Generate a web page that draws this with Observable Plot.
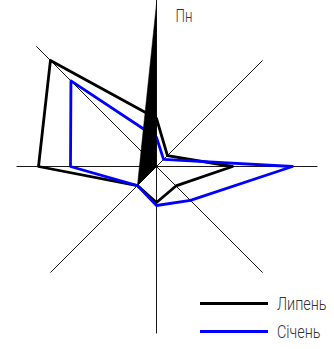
<!DOCTYPE html>
<html>
<head>
<meta charset="utf-8">
<script src="https://cdn.jsdelivr.net/npm/d3@7"></script>
<script src="https://cdn.jsdelivr.net/npm/@observablehq/plot@0.6"></script>
<style>
  html, body { margin: 0; padding: 0; background: #fff; }
  #wrap { position: relative; width: 334px; height: 349px; }
  .lg { position: absolute; left: 200px; display: flex; align-items: center; white-space: nowrap; }
  .lg span.sw { display: inline-block; width: 68px; height: 3px; margin-right: 9px; }
  .lg span.tx { display: inline-block; font-family: Roboto, sans-serif; font-weight: 300; font-size: 18px; color: #333; transform: scaleX(0.8); transform-origin: left center; }
</style>
</head>
<body>
<div id="wrap"></div>
<script>
// Directions (clockwise from north)
const directions = ["Пн", "ПнСх", "Сх", "ПдСх", "Пд", "ПдЗх", "Зх", "ПнЗх"];
// Series values
const lypen = [48, 15.5, 76, 27.5, 36, 27, 118, 150];   // Липень (July)
const sichen = [29, 10, 136, 48, 39, 27, 86, 121];      // Січень (January)
// Length of each axis ray
const axisReach = [167, 150, 161, 150, 167, 150, 140, 170];
// Filled spike (direction index, value)
const spike = [[0, 163], [5, 27], [0, 0]];
const seriesNames = ["Липень", "Січень"];
const seriesColors = ["#000000", "#0000ff"];

const polar = (i, r) => {
  const a = i * Math.PI / 4;
  return {x: r * Math.sin(a), y: r * Math.cos(a)};
};

const axes = directions.map((d, i) => ({...polar(i, axisReach[i]), d}));
const ring = (vals, name) => {
  const pts = vals.map((v, i) => ({...polar(i, v), name}));
  pts.push(pts[0]);
  return pts;
};
const black = ring(lypen, seriesNames[0]);
const blue = ring(sichen, seriesNames[1]);
const spikePts = spike.map(([i, v]) => polar(i, v));

const chart = Plot.plot({
  width: 334,
  height: 349,
  margin: 0,
  x: {domain: [-156, 178], axis: null},
  y: {domain: [-183, 166], axis: null},
  marks: [
    Plot.link(axes, {x1: 0, y1: 0, x2: "x", y2: "y", stroke: "#000", strokeWidth: 0.9}),
    Plot.line(black, {x: "x", y: "y", stroke: seriesColors[0], strokeWidth: 2.8, curve: "linear"}),
    Plot.line(blue, {x: "x", y: "y", stroke: seriesColors[1], strokeWidth: 2.8, curve: "linear"}),
    Plot.line(spikePts, {x: "x", y: "y", fill: "#000", stroke: "#000", strokeWidth: 0.5}),
    Plot.text([directions[0]], {x: 0, y: axisReach[0], text: d => d, dx: 19, dy: 17, textAnchor: "start",
      fontSize: 18, fontWeight: 300, fill: "#333", fontFamily: "Roboto, sans-serif", className: "nlabel"})
  ]
});

chart.querySelectorAll(".nlabel text").forEach(t => {
  t.setAttribute("textLength", 17);
  t.setAttribute("lengthAdjust", "spacingAndGlyphs");
});

const wrap = document.getElementById("wrap");
wrap.appendChild(chart);
seriesNames.forEach((n, k) => {
  const div = document.createElement("div");
  div.className = "lg";
  div.style.top = (k === 0 ? 293 : 321) + "px";
  div.innerHTML = `<span class="sw" style="background:${seriesColors[k]}"></span><span class="tx">${n}</span>`;
  wrap.appendChild(div);
});
</script>
</body>
</html>
